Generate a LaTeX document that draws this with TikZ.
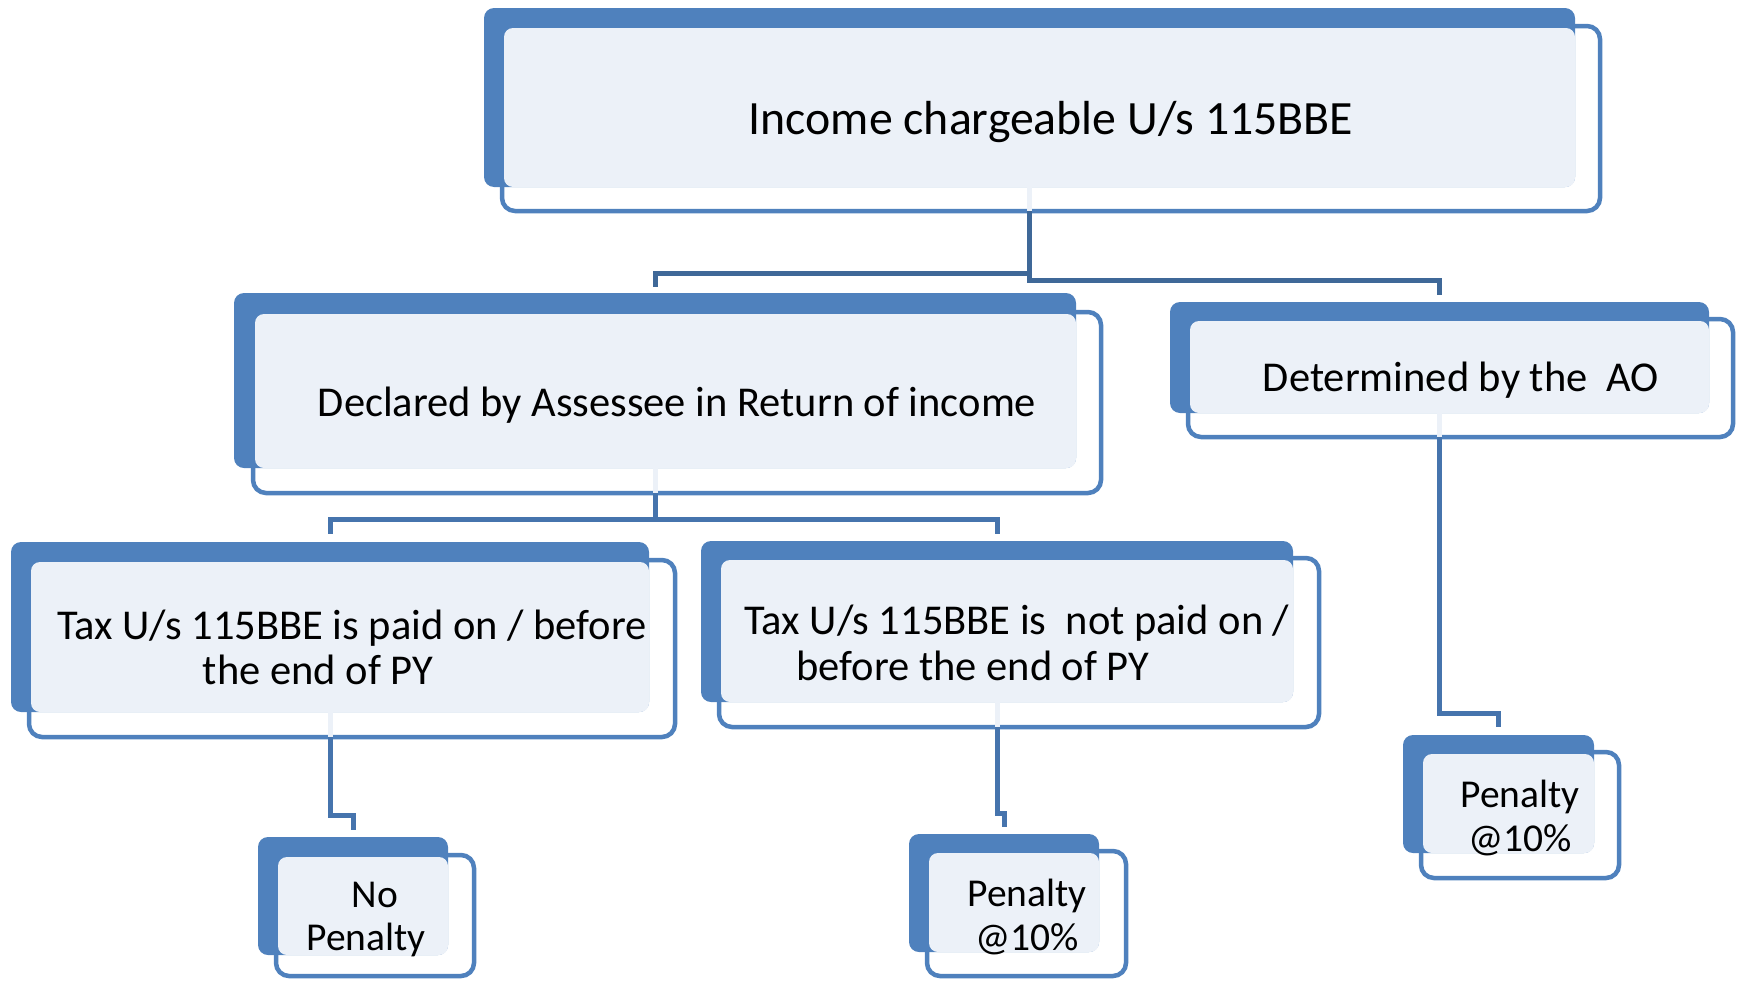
\documentclass[tikz,border=0pt]{standalone}
\usepackage{fontspec}
\setmainfont{Carlito}
\definecolor{cblue}{HTML}{4F81BD}
\definecolor{clight}{HTML}{ECF1F8}
\definecolor{cdark}{HTML}{3F6898}
\definecolor{cmid}{HTML}{4674AD}
\tikzset{
  back/.style={fill=cblue, rounded corners=10pt, anchor=north west, inner sep=0pt, outer sep=0pt},
  frame/.style={draw=cblue, line width=4.5pt, fill=white, rounded corners=13pt, anchor=north west, inner sep=0pt, outer sep=0pt},
  face/.style={fill=clight, rounded corners=9pt, anchor=north west, inner sep=0pt, outer sep=0pt},
  connA/.style={draw=cdark, line width=5pt},
  connB/.style={draw=cmid, line width=5pt},
  stub/.style={draw=clight, line width=5pt},
  txtL/.style={anchor=base, inner sep=0pt, font=\fontsize{47.8}{52}\selectfont},
  txtM/.style={anchor=base, inner sep=0pt, font=\fontsize{42.5}{46}\selectfont},
  txtS/.style={anchor=base, inner sep=0pt, font=\fontsize{39.5}{43}\selectfont},
}
% #1 name, back x1 y1 x2 y2, frame x1 y1 x2 y2
\newcommand{\tribox}[9]{%
  \node[frame, minimum width=#8pt-#6pt, minimum height=#9pt-#7pt] (f#1) at (#6,#7) {};
  \node[back, minimum width=#4pt-#2pt, minimum height=#5pt-#3pt] (b#1) at (#2,#3) {};
  \node[face, minimum width=#4pt-#6pt-2pt, minimum height=#5pt-#7pt-2pt] (c#1) at (#6+2,#7+2) {};
}
\begin{document}
\begin{tikzpicture}[x=1pt, y=-1pt]
\useasboundingbox (0,0) rectangle (1739,980);

% boxes
\tribox{1}{484}{8}{1575}{187}{502}{26}{1600}{211}
\tribox{2}{234}{293}{1076}{468}{253}{312}{1101}{493}
\tribox{3}{1170}{302}{1709}{413}{1188}{319}{1733}{437}
\tribox{4}{11}{542}{649}{712}{29}{560}{675}{737}
\tribox{5}{701}{541}{1293}{702}{719}{558}{1319}{727}
\tribox{6}{258}{837}{448}{955}{276}{855}{474}{976}
\tribox{7}{909}{834}{1099}{952}{927}{851}{1126}{976}
\tribox{8}{1403}{735}{1594}{853}{1421}{752}{1619}{878}

% stubs inside the frames
\foreach \i in {1,2,3,4,5}{
  \draw[stub] (b\i.south) -- (b\i.south |- f\i.south);
}

% connectors
\draw[connA] (b1.south |- f1.south) -- ++(0,62) -| ([yshift=6pt]b2.north);
\draw[connA] (b1.south |- f1.south) -- ++(0,69) -| ([yshift=7pt]b3.north);
\draw[connB] (b2.south |- f2.south) -- ++(0,26) -| ([yshift=8pt]b4.north);
\draw[connB] (b2.south |- f2.south) -- ++(0,26) -| ([yshift=7pt]b5.north);
\draw[connB] (b4.south |- f4.south) -- ++(0,78) -| ([yshift=7pt]b6.north);
\draw[connB] (b5.south |- f5.south) -- ++(0,86) -| ([yshift=7pt]b7.north);
\draw[connB] (b3.south |- f3.south) -- ++(0,276) -| ([yshift=8pt]b8.north);

% texts
\node[txtL] (t1) at (1051,134) {Income chargeable U/s 115BBE};
\node[txtM] (t2) at (677,416) {Declared by Assessee in Return of income};
\node[txtM] (t3) at (1461,391) {Determined by the\ \ AO};
\node[txtM] (t4a) at (352,639) {Tax U/s 115BBE is paid on / before};
\node[txtM] (t4b) at (318,684) {the end of PY};
\node[txtM] (t5a) at (1017,634) {Tax U/s 115BBE is\ \ not paid on /};
\node[txtM] (t5b) at (973,680) {before the end of PY};
\node[txtS] (t6a) at (375,907) {No};
\node[txtS] (t6b) at (366,950) {Penalty};
\node[txtS] (t7a) at (1027,906) {Penalty};
\node[txtS] (t7b) at (1027,950) {@10\%};
\node[txtS] (t8a) at (1520,807) {Penalty};
\node[txtS] (t8b) at (1520,851) {@10\%};
\end{tikzpicture}
\end{document}
